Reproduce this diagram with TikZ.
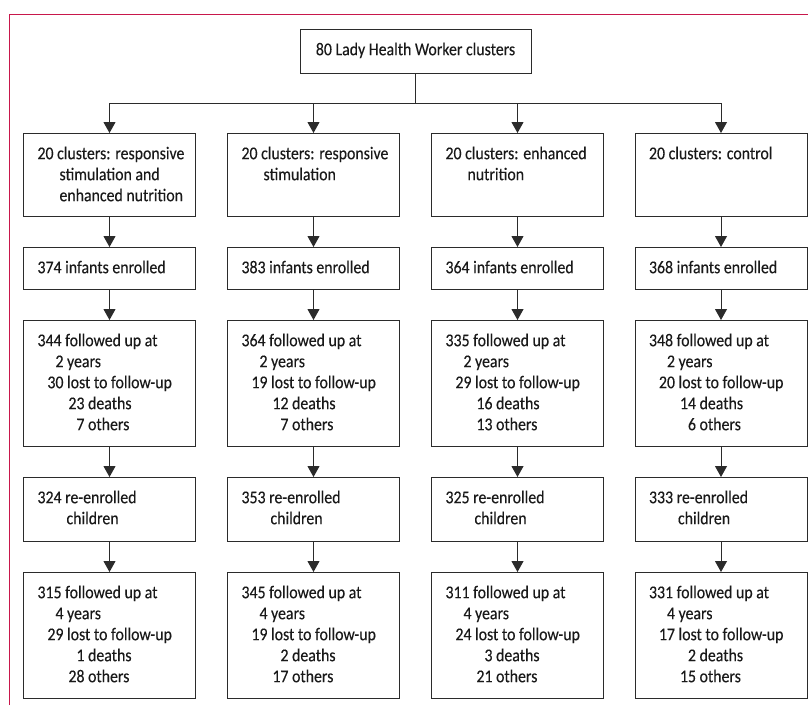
\documentclass[tikz,border=0pt]{standalone}
\usepackage{fontspec}
\setmainfont{Carlito}[FakeStretch=0.88,FakeBold=0.2]
\usepackage{xcolor}
\usepackage{tikz}
\usetikzlibrary{
	arrows.meta,positioning
}

\definecolor{framered}{HTML}{C8174B}
\definecolor{linegray}{HTML}{2B2B2B}

\newcommand{\boxtext}[2]{\parbox[c][#1][t]{172pt}{\raggedright\leftskip=14pt\vspace*{11pt}\strut #2}}
\newcommand{\numA}[1]{\makebox[26pt][r]{#1}}
\newcommand{\numB}[1]{\makebox[47pt][r]{#1}}

\begin{document}
\begin{tikzpicture}[x=1pt,y=-1pt,font=\fontsize{18}{21}\selectfont,
		box/.style={draw=linegray,line width=1pt,inner sep=0pt,anchor=north,text=black!90}]
		\useasboundingbox (0,0) rectangle (808,705);
		\draw[framered,line width=0.8pt] (9,705) -- (9,14) -- (808,14);
		%
		\node[box] (T) at (415.5,29) {\parbox[c][44pt][t]{231pt}{\centering\vspace*{11pt}\strut 80 Lady Health Worker clusters}};
		\coordinate (J) at (415.5,103);
		\coordinate (J1) at (109.5,103);
		\coordinate (J2) at (313.5,103);
		\coordinate (J3) at (517.5,103);
		\coordinate (J4) at (721,103);
		%
		\node[box] (C1) at (109.5,133) {\boxtext{83pt}{20 clusters: responsive\\ \hspace*{22pt}stimulation and\\ \hspace*{22pt}enhanced nutrition}};
		\node[box] (C2) at (313.5,133) {\boxtext{83pt}{20 clusters: responsive\\ \hspace*{22pt}stimulation}};
		\node[box] (C3) at (517.5,133) {\boxtext{83pt}{20 clusters: enhanced\\ \hspace*{22pt}nutrition}};
		\node[box] (C4) at (721,133) {\boxtext{83pt}{20 clusters: control}};
		%
		\node[box] (E1) at (109.5,247) {\boxtext{42pt}{374 infants enrolled}};
		\node[box] (E2) at (313.5,247) {\boxtext{42pt}{383 infants enrolled}};
		\node[box] (E3) at (517.5,247) {\boxtext{42pt}{364 infants enrolled}};
		\node[box] (E4) at (721,247) {\boxtext{42pt}{368 infants enrolled}};
		%
		\node[box] (F1) at (109.5,320) {\boxtext{126pt}{344 followed up at\\ \numA{2} years\\ \numA{30} lost to follow-up\\ \numB{23} deaths\\ \numB{7} others}};
		\node[box] (F2) at (313.5,320) {\boxtext{126pt}{364 followed up at\\ \numA{2} years\\ \numA{19} lost to follow-up\\ \numB{12} deaths\\ \numB{7} others}};
		\node[box] (F3) at (517.5,320) {\boxtext{126pt}{335 followed up at\\ \numA{2} years\\ \numA{29} lost to follow-up\\ \numB{16} deaths\\ \numB{13} others}};
		\node[box] (F4) at (721,320) {\boxtext{126pt}{348 followed up at\\ \numA{2} years\\ \numA{20} lost to follow-up\\ \numB{14} deaths\\ \numB{6} others}};
		%
		\node[box] (R1) at (109.5,477) {\boxtext{64pt}{324 re-enrolled\\ \hspace*{29pt}children}};
		\node[box] (R2) at (313.5,477) {\boxtext{64pt}{353 re-enrolled\\ \hspace*{29pt}children}};
		\node[box] (R3) at (517.5,477) {\boxtext{64pt}{325 re-enrolled\\ \hspace*{29pt}children}};
		\node[box] (R4) at (721,477) {\boxtext{64pt}{333 re-enrolled\\ \hspace*{29pt}children}};
		%
		\node[box] (G1) at (109.5,572) {\boxtext{126pt}{315 followed up at\\ \numA{4} years\\ \numA{29} lost to follow-up\\ \numB{1} deaths\\ \numB{28} others}};
		\node[box] (G2) at (313.5,572) {\boxtext{126pt}{345 followed up at\\ \numA{4} years\\ \numA{19} lost to follow-up\\ \numB{2} deaths\\ \numB{17} others}};
		\node[box] (G3) at (517.5,572) {\boxtext{126pt}{311 followed up at\\ \numA{4} years\\ \numA{24} lost to follow-up\\ \numB{3} deaths\\ \numB{21} others}};
		\node[box] (G4) at (721,572) {\boxtext{126pt}{331 followed up at\\ \numA{4} years\\ \numA{17} lost to follow-up\\ \numB{2} deaths\\ \numB{15} others}};
		%
		\draw[linegray,line width=1pt] (T) -- (J) (J1) -- (J4);
		\path[->,color=linegray,line width=1pt,>={Triangle[length=11pt,width=12pt]}]
			(J1) edge (C1) (C1) edge (E1) (E1) edge (F1) (F1) edge (R1) (R1) edge (G1)
			(J2) edge (C2) (C2) edge (E2) (E2) edge (F2) (F2) edge (R2) (R2) edge (G2)
			(J3) edge (C3) (C3) edge (E3) (E3) edge (F3) (F3) edge (R3) (R3) edge (G3)
			(J4) edge (C4) (C4) edge (E4) (E4) edge (F4) (F4) edge (R4) (R4) edge (G4);
	\end{tikzpicture}
\end{document}
